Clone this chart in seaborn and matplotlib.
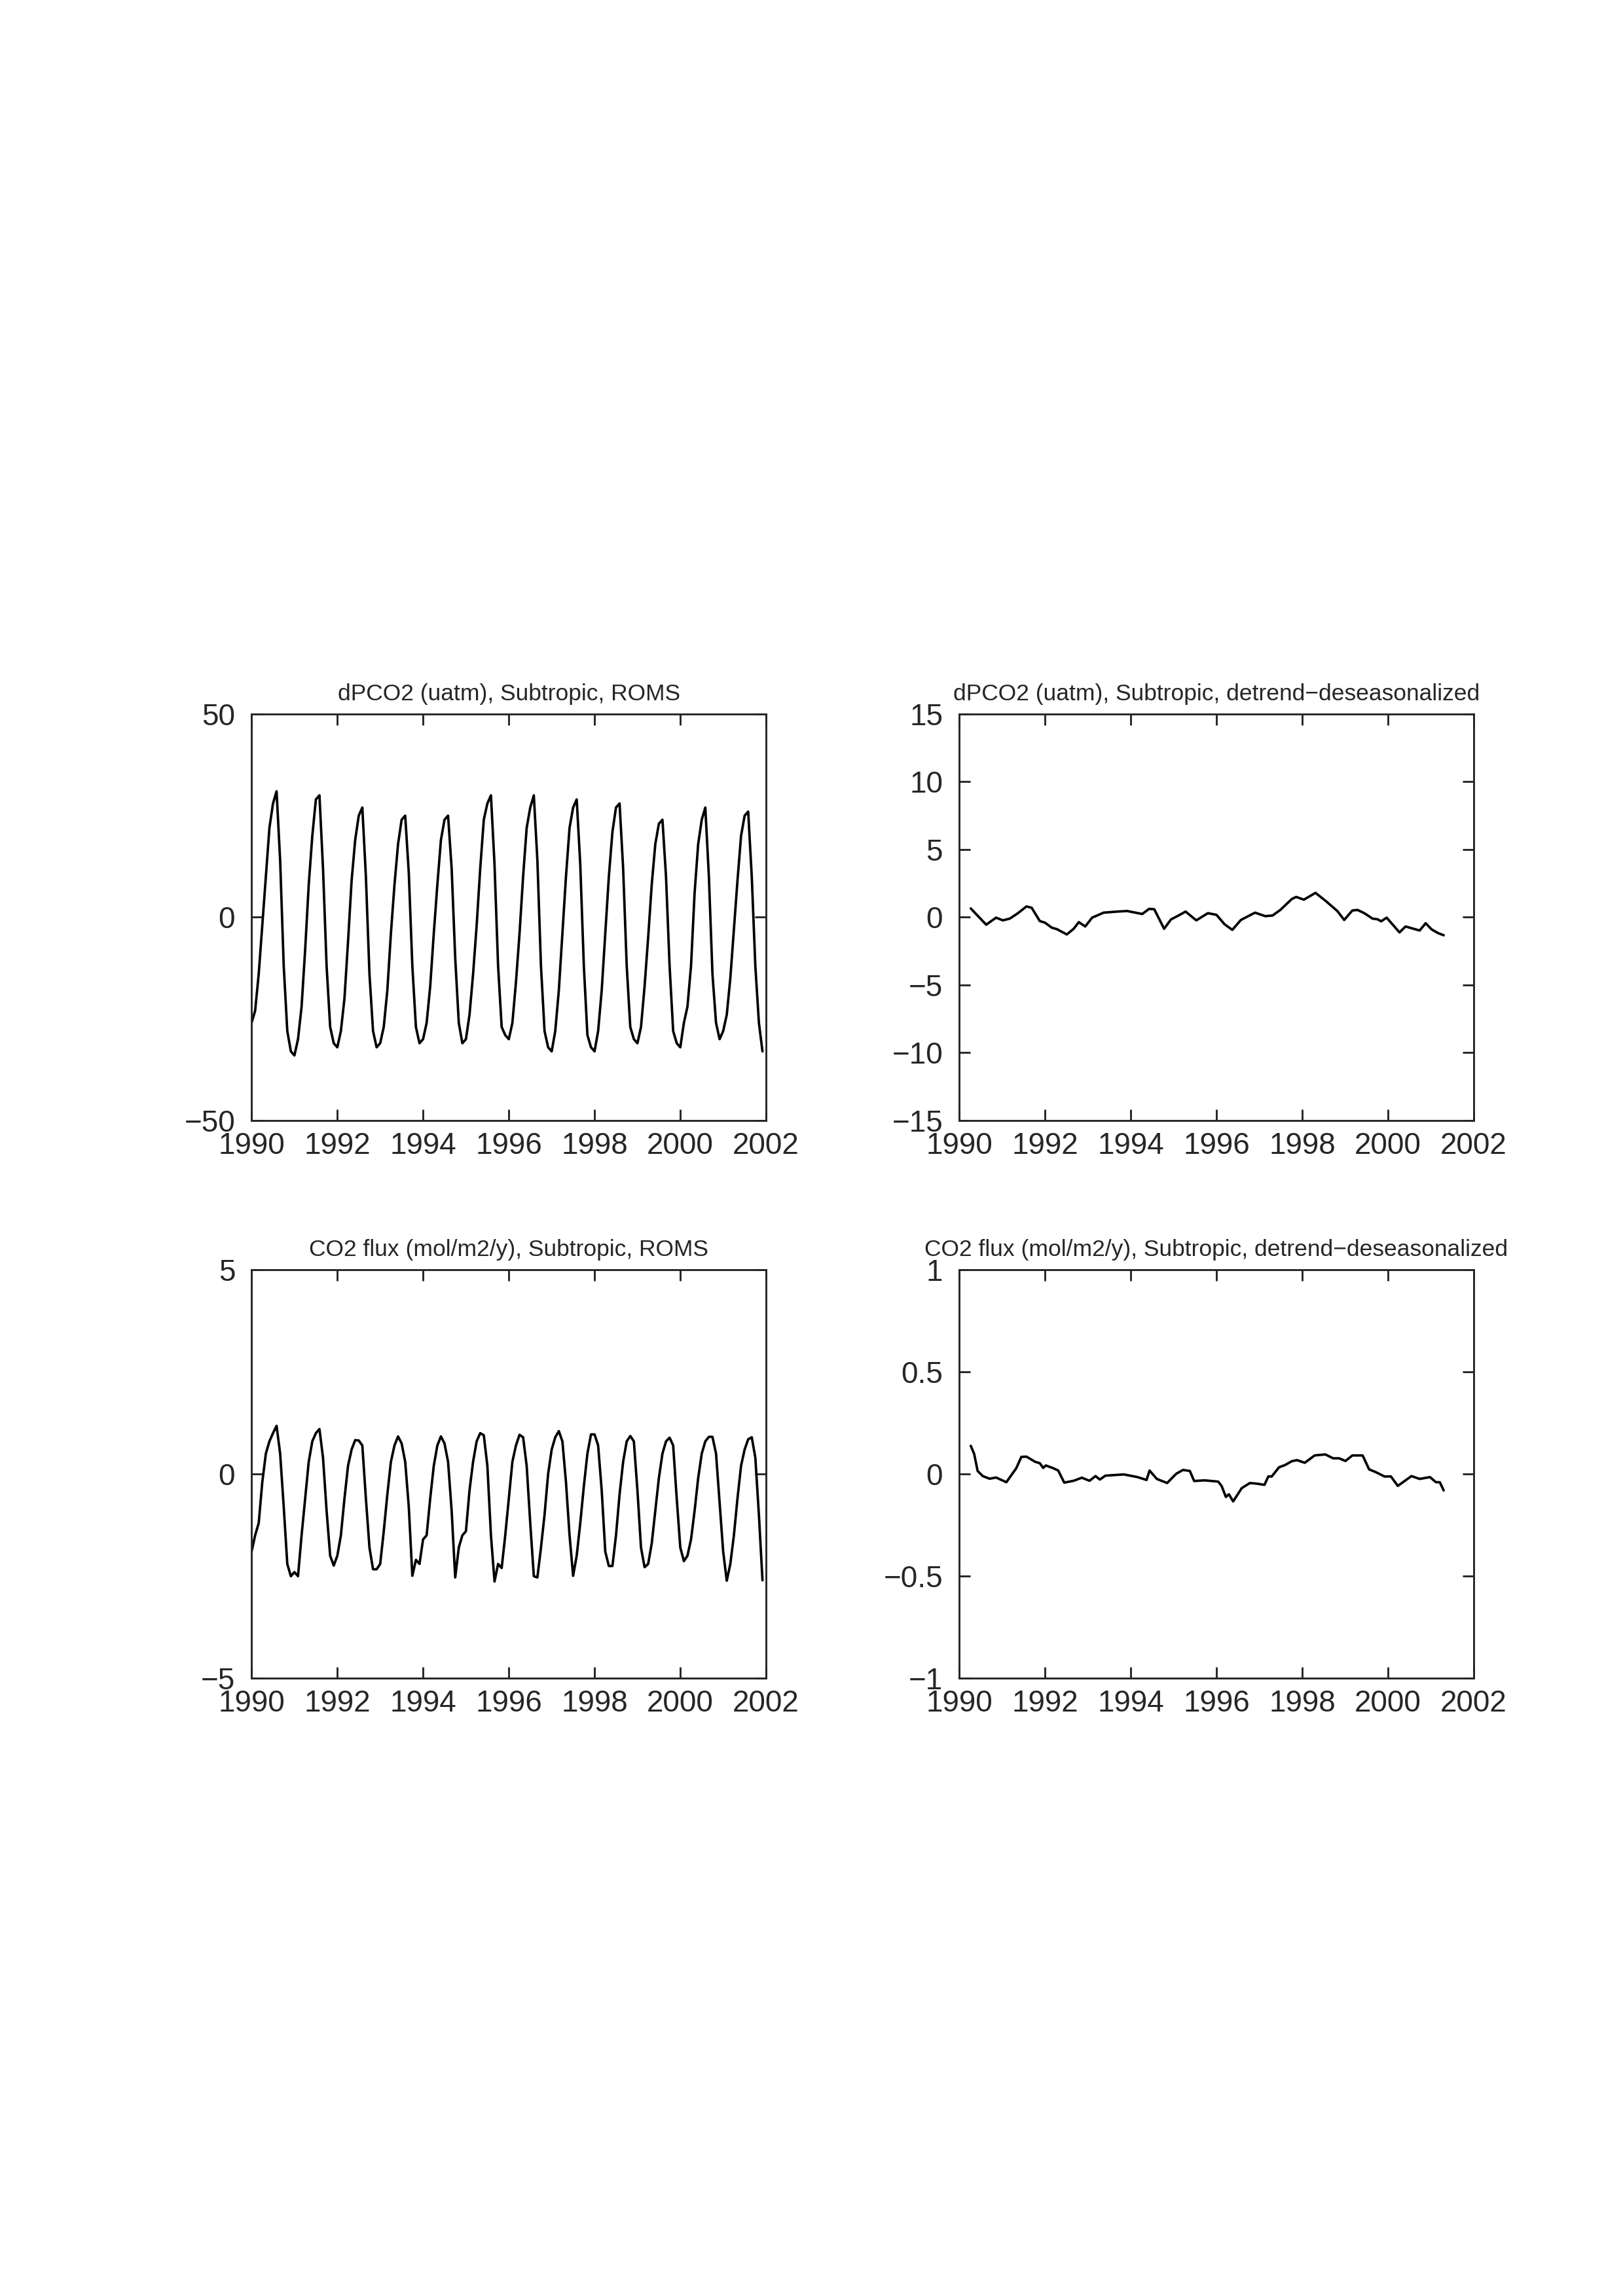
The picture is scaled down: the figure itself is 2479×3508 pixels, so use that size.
import matplotlib
matplotlib.use("Agg")
import matplotlib.pyplot as plt
import seaborn as sns
import numpy as np
import pandas as pd

# monthly dPCO2 (uatm), ROMS, Jan..Dec per row, 1990-2001
dpco2_roms = [
    -26, -23, -14, -2, 10, 22, 28, 31, 14, -12, -28, -33,
    -34, -30, -22, -8, 8, 20, 29, 30, 12, -12, -27, -31,
    -32, -28, -20, -6, 9, 19, 25, 27, 10, -14, -28, -32,
    -31, -27, -18, -4, 8, 18, 24, 25, 11, -12, -27, -31,
    -30, -26, -17, -4, 8, 19, 24, 25, 12, -10, -26, -31,
    -30, -24, -14, -2, 12, 24, 28, 30, 13, -12, -27, -29,
    -30, -26, -16, -4, 10, 22, 27, 30, 14, -12, -28, -32,
    -33, -28, -18, -4, 10, 22, 27, 29, 13, -12, -29, -32,
    -33, -28, -18, -4, 10, 21, 27, 28, 12, -12, -27, -30,
    -31, -27, -17, -5, 8, 18, 23, 24, 10, -12, -28, -31,
    -32, -26, -22, -12, 6, 18, 24, 27, 10, -14, -26, -30,
    -28, -24, -15, -3, 9, 20, 25, 26, 10, -12, -26, -33,
]

# monthly CO2 flux (mol/m2/y), ROMS
flux_roms = [
    -1.9, -1.5, -1.2, -0.2, 0.5, 0.8, 1.0, 1.18, 0.5, -0.8, -2.2, -2.5,
    -2.4, -2.5, -1.5, -0.6, 0.3, 0.8, 1.0, 1.1, 0.4, -0.9, -2.0, -2.24,
    -2.0, -1.5, -0.6, 0.2, 0.6, 0.83, 0.82, 0.7, -0.6, -1.8, -2.33, -2.33,
    -2.2, -1.4, -0.5, 0.3, 0.7, 0.92, 0.75, 0.3, -0.8, -2.49, -2.1, -2.2,
    -1.6, -1.5, -0.6, 0.2, 0.7, 0.92, 0.75, 0.3, -0.9, -2.53, -1.8, -1.5,
    -1.4, -0.4, 0.3, 0.8, 1.0, 0.95, 0.2, -1.5, -2.63, -2.2, -2.3, -1.5,
    -0.6, 0.3, 0.7, 0.96, 0.9, 0.2, -1.2, -2.5, -2.53, -1.8, -1.0, 0.0,
    0.6, 0.9, 1.05, 0.8, -0.2, -1.5, -2.49, -2.0, -1.2, -0.3, 0.5, 0.97,
    0.97, 0.7, -0.4, -1.9, -2.25, -2.25, -1.5, -0.5, 0.3, 0.8, 0.93, 0.8,
    -0.4, -1.8, -2.28, -2.2, -1.7, -0.9, -0.1, 0.5, 0.8, 0.89, 0.7, -0.6,
    -1.8, -2.13, -2.0, -1.6, -0.9, -0.1, 0.5, 0.8, 0.91, 0.91, 0.5, -0.7,
    -1.9, -2.61, -2.2, -1.5, -0.6, 0.2, 0.6, 0.85, 0.9, 0.4, -1.0, -2.6,
]

months = 1990 + np.arange(144) / 12.0

# detrended-deseasonalized dPCO2
dpco2_dd_year = [1990.27, 1990.63, 1990.86, 1991.02, 1991.18, 1991.37, 1991.57, 1991.69, 1991.88, 1992.0,
                 1992.16, 1992.28, 1992.51, 1992.67, 1992.79, 1992.94, 1993.1, 1993.37, 1993.69, 1993.92,
                 1994.27, 1994.43, 1994.55, 1994.78, 1994.94, 1995.1, 1995.28, 1995.53, 1995.8, 1996.0,
                 1996.19, 1996.37, 1996.57, 1996.9, 1997.14, 1997.31, 1997.49, 1997.76, 1997.86, 1998.04,
                 1998.31, 1998.55, 1998.82, 1998.98, 1999.17, 1999.29, 1999.45, 1999.64, 1999.76, 1999.84,
                 1999.97, 2000.27, 2000.41, 2000.74, 2000.88, 2001.02, 2001.17, 2001.3]
dpco2_dd = [0.65, -0.55, -0.03, -0.23, -0.1, 0.3, 0.8, 0.7, -0.28, -0.4,
            -0.77, -0.88, -1.27, -0.85, -0.36, -0.68, -0.03, 0.34, 0.42, 0.46,
            0.24, 0.62, 0.59, -0.85, -0.16, 0.1, 0.42, -0.23, 0.3, 0.18,
            -0.52, -0.93, -0.2, 0.34, 0.08, 0.13, 0.54, 1.35, 1.5, 1.3,
            1.8, 1.2, 0.46, -0.2, 0.5, 0.54, 0.3, -0.1, -0.15, -0.3,
            -0.03, -1.12, -0.68, -0.98, -0.44, -0.9, -1.17, -1.33]

# detrended-deseasonalized CO2 flux
flux_dd_year = [1990.27, 1990.35, 1990.43, 1990.55, 1990.71, 1990.86, 1991.1, 1991.33, 1991.45, 1991.57,
                1991.77, 1991.88, 1991.96, 1992.02, 1992.2, 1992.31, 1992.45, 1992.67, 1992.86, 1993.04,
                1993.18, 1993.28, 1993.41, 1993.84, 1994.16, 1994.37, 1994.44, 1994.61, 1994.85, 1995.06,
                1995.22, 1995.38, 1995.48, 1995.73, 1996.04, 1996.12, 1996.22, 1996.29, 1996.39, 1996.59,
                1996.78, 1996.94, 1997.12, 1997.21, 1997.29, 1997.46, 1997.6, 1997.76, 1997.88, 1998.06,
                1998.29, 1998.54, 1998.72, 1998.86, 1999.01, 1999.17, 1999.41, 1999.56, 1999.72, 1999.92,
                2000.07, 2000.23, 2000.55, 2000.74, 2000.98, 2001.12, 2001.21, 2001.3]
flux_dd = [0.138, 0.098, 0.015, -0.01, -0.023, -0.017, -0.04, 0.028, 0.084, 0.085,
           0.06, 0.053, 0.03, 0.042, 0.028, 0.017, -0.042, -0.033, -0.018, -0.033,
           -0.01, -0.027, -0.008, -0.002, -0.015, -0.029, 0.017, -0.024, -0.044, 0.001,
           0.02, 0.015, -0.034, -0.031, -0.037, -0.058, -0.112, -0.099, -0.134, -0.069,
           -0.044, -0.047, -0.053, -0.012, -0.012, 0.033, 0.044, 0.063, 0.068, 0.055,
           0.091, 0.096, 0.077, 0.077, 0.064, 0.091, 0.091, 0.023, 0.009, -0.012,
           -0.012, -0.058, -0.01, -0.024, -0.015, -0.04, -0.04, -0.08]

sns.set_style("ticks")
plt.rcParams["font.family"] = ["Liberation Sans", "DejaVu Sans"]

fig = plt.figure(figsize=(2479 / 300, 3508 / 300), dpi=300)

panels = [
    ([0.155, 0.512, 0.317, 0.177], months, dpco2_roms, (-50, 50), [-50, 0, 50], None,
     "dPCO2 (uatm), Subtropic, ROMS"),
    ([0.591, 0.512, 0.317, 0.177], dpco2_dd_year, dpco2_dd, (-15, 15), [-15, -10, -5, 0, 5, 10, 15], None,
     "dPCO2 (uatm), Subtropic, detrend\u2212deseasonalized"),
    ([0.155, 0.269, 0.317, 0.178], months, flux_roms, (-5, 5), [-5, 0, 5], None,
     "CO2 flux (mol/m2/y), Subtropic, ROMS"),
    ([0.591, 0.269, 0.317, 0.178], flux_dd_year, flux_dd, (-1, 1), [-1, -0.5, 0, 0.5, 1],
     ["\u22121", "\u22120.5", "0", "0.5", "1"],
     "CO2 flux (mol/m2/y), Subtropic, detrend\u2212deseasonalized"),
]

for rect, x, y, ylim, yticks, ylabels, title in panels:
    ax = fig.add_axes(rect)
    df = pd.DataFrame({"x": x, "y": y})
    sns.lineplot(data=df, x="x", y="y", ax=ax, color="black", linewidth=0.9)
    ax.set_xlim(1990, 2002)
    ax.set_ylim(*ylim)
    ax.set_xticks(range(1990, 2003, 2))
    ax.set_yticks(yticks)
    if ylabels is not None:
        ax.set_yticklabels(ylabels)
    else:
        ax.set_yticklabels([str(t).replace("-", "\u2212") for t in yticks])
    ax.set_xlabel("")
    ax.set_ylabel("")
    ax.set_title(title, fontsize=8.5, pad=5)
    ax.tick_params(direction="in", top=True, right=True, labelsize=11, length=4, width=0.7)
    ax.tick_params(axis="x", pad=4)
    ax.tick_params(axis="y", pad=6)
    for s in ax.spines.values():
        s.set_linewidth(0.7)
        s.set_visible(True)

fig.savefig("out.png", dpi=300, facecolor="white")
